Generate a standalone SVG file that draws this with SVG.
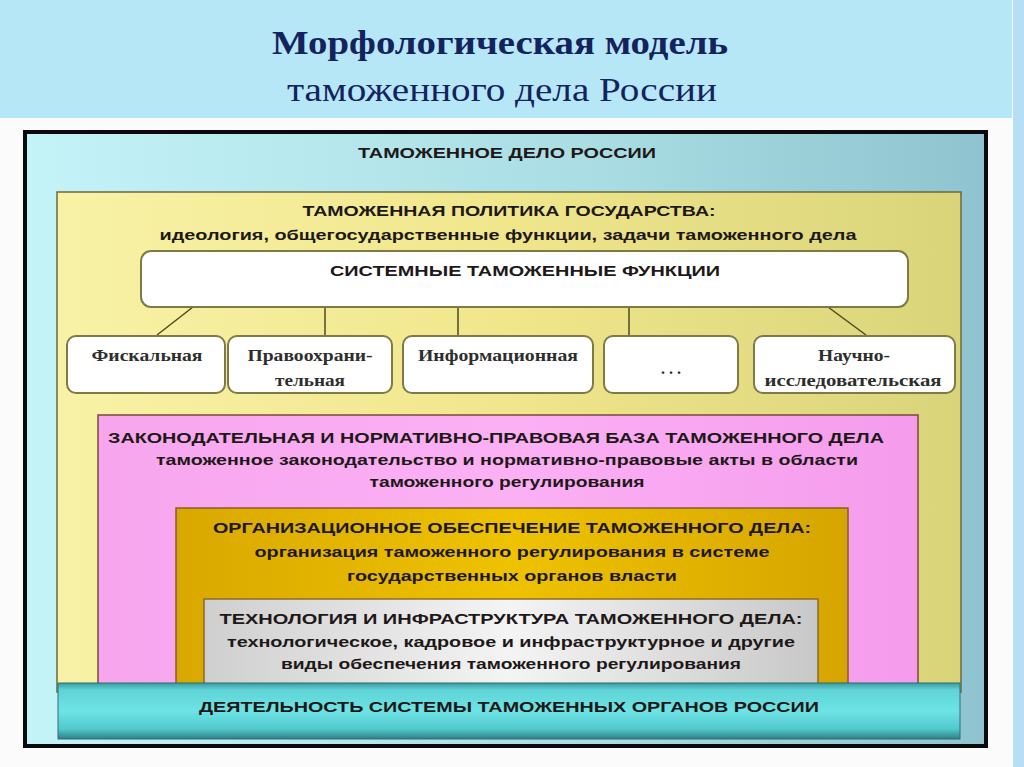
<svg xmlns="http://www.w3.org/2000/svg" width="1024" height="767" viewBox="0 0 1024 767">
  <defs>
    <linearGradient id="gOuter" x1="0" y1="0" x2="1" y2="0">
      <stop offset="0" stop-color="#c4f3f8"/>
      <stop offset="0.6" stop-color="#a9dde3"/>
      <stop offset="1" stop-color="#8fc3cf"/>
    </linearGradient>
    <linearGradient id="gYellow" x1="0" y1="0" x2="1" y2="0">
      <stop offset="0" stop-color="#f8f2a6"/>
      <stop offset="0.5" stop-color="#f0e68c"/>
      <stop offset="1" stop-color="#d9d47a"/>
    </linearGradient>
    <linearGradient id="gPink" x1="0" y1="0" x2="1" y2="0">
      <stop offset="0" stop-color="#f7a6ee"/>
      <stop offset="0.5" stop-color="#fbb0f4"/>
      <stop offset="1" stop-color="#f59cec"/>
    </linearGradient>
    <linearGradient id="gGold" x1="0" y1="0" x2="1" y2="0">
      <stop offset="0" stop-color="#d9a800"/>
      <stop offset="0.5" stop-color="#eec200"/>
      <stop offset="1" stop-color="#d6a500"/>
    </linearGradient>
    <linearGradient id="gGray" x1="0" y1="0" x2="1" y2="0">
      <stop offset="0" stop-color="#cfcfcf"/>
      <stop offset="0.5" stop-color="#f4f4f4"/>
      <stop offset="1" stop-color="#c8c8c8"/>
    </linearGradient>
    <linearGradient id="gBar" x1="0" y1="0" x2="0" y2="1">
      <stop offset="0" stop-color="#3c9a9f"/>
      <stop offset="0.12" stop-color="#5fd3d6"/>
      <stop offset="0.5" stop-color="#6ee4e6"/>
      <stop offset="0.82" stop-color="#52c9cc"/>
      <stop offset="1" stop-color="#2f7f86"/>
    </linearGradient>
    <style>
      .title { font-family: "Liberation Serif", "DejaVu Serif", serif; fill: #14225e; }
      .cap { font-family: "Liberation Sans", Arial, sans-serif; font-weight: bold; fill: #1e1818; text-anchor: middle; }
      .ser { font-family: "Liberation Serif", "DejaVu Serif", serif; font-weight: bold; fill: #2e2e2e; text-anchor: middle; font-size: 16px; }
      .fn { fill: #ffffff; stroke: #7d7a45; stroke-width: 2; }
      .conn { stroke: #4d4a22; stroke-width: 1.5; fill: none; }
    </style>
  </defs>

  <!-- background -->
  <rect x="0" y="0" width="1024" height="767" fill="#fbfbfb"/>
  <rect x="0" y="0" width="1012" height="118" fill="#b6e7f7"/>
  <rect x="1013" y="0" width="11" height="767" fill="#b6def5"/>

  <g id="title">
    <text class="title" x="500" y="54" font-size="34" font-weight="bold" text-anchor="middle" textLength="456" lengthAdjust="spacingAndGlyphs">Морфологическая модель</text>
    <text class="title" x="502" y="101" font-size="33" text-anchor="middle" textLength="430" lengthAdjust="spacingAndGlyphs">таможенного дела России</text>
  </g>

  <g id="outer">
    <rect x="25" y="132" width="961" height="614" fill="url(#gOuter)" stroke="#0a0a0a" stroke-width="4"/>
    <text class="cap" x="507" y="158" font-size="15" textLength="298" lengthAdjust="spacingAndGlyphs">ТАМОЖЕННОЕ ДЕЛО РОССИИ</text>
  </g>

  <g id="policy">
    <rect x="57" y="192" width="904" height="500" fill="url(#gYellow)" stroke="#6c6a3a" stroke-width="1.5"/>
    <text class="cap" x="509" y="216" font-size="15" textLength="413" lengthAdjust="spacingAndGlyphs">ТАМОЖЕННАЯ ПОЛИТИКА ГОСУДАРСТВА:</text>
    <text class="cap" x="508" y="240" font-size="15" textLength="697" lengthAdjust="spacingAndGlyphs">идеология, общегосударственные функции, задачи таможенного дела</text>
  </g>

  <g id="connectors">
    <line class="conn" x1="193" y1="307" x2="157" y2="335"/>
    <line class="conn" x1="325" y1="307" x2="325" y2="335"/>
    <line class="conn" x1="458" y1="307" x2="458" y2="335"/>
    <line class="conn" x1="629" y1="307" x2="629" y2="335"/>
    <line class="conn" x1="828" y1="307" x2="866" y2="335"/>
  </g>

  <g id="system-functions">
    <rect class="fn" x="141" y="251" width="767" height="56" rx="10"/>
    <text class="cap" x="525" y="276" font-size="15" textLength="390" lengthAdjust="spacingAndGlyphs">СИСТЕМНЫЕ ТАМОЖЕННЫЕ ФУНКЦИИ</text>
  </g>

  <g id="fiscal">
    <rect class="fn" x="67" y="336" width="158" height="57" rx="9"/>
    <text class="ser" x="147" y="361" textLength="111" lengthAdjust="spacingAndGlyphs">Фискальная</text>
  </g>
  <g id="law-enforcement">
    <rect class="fn" x="228" y="336" width="164" height="57" rx="9"/>
    <text class="ser" x="310" y="361" textLength="125" lengthAdjust="spacingAndGlyphs">Правоохрани-</text>
    <text class="ser" x="310" y="386" textLength="70" lengthAdjust="spacingAndGlyphs">тельная</text>
  </g>
  <g id="informational">
    <rect class="fn" x="403" y="336" width="190" height="57" rx="9"/>
    <text class="ser" x="498" y="361" textLength="160" lengthAdjust="spacingAndGlyphs">Информационная</text>
  </g>
  <g id="etc">
    <rect class="fn" x="604" y="336" width="134" height="57" rx="9"/>
    <text class="ser" x="671" y="374">. . .</text>
  </g>
  <g id="research">
    <rect class="fn" x="754" y="336" width="201" height="57" rx="9"/>
    <text class="ser" x="854" y="361" textLength="72" lengthAdjust="spacingAndGlyphs">Научно-</text>
    <text class="ser" x="853" y="386" textLength="177" lengthAdjust="spacingAndGlyphs">исследовательская</text>
  </g>

  <g id="legal-base">
    <rect x="98" y="415" width="820" height="277" fill="url(#gPink)" stroke="#7a4a3a" stroke-width="1.5"/>
    <text class="cap" x="496" y="443" font-size="15" textLength="776" lengthAdjust="spacingAndGlyphs">ЗАКОНОДАТЕЛЬНАЯ И НОРМАТИВНО-ПРАВОВАЯ БАЗА ТАМОЖЕННОГО ДЕЛА</text>
    <text class="cap" x="507" y="465" font-size="15" textLength="702" lengthAdjust="spacingAndGlyphs">таможенное законодательство и нормативно-правовые акты в области</text>
    <text class="cap" x="507" y="487" font-size="15" textLength="275" lengthAdjust="spacingAndGlyphs">таможенного регулирования</text>
  </g>

  <g id="organizational">
    <rect x="176" y="508" width="672" height="184" fill="url(#gGold)" stroke="#8a5a30" stroke-width="1.5"/>
    <text class="cap" x="512" y="533" font-size="15" textLength="598" lengthAdjust="spacingAndGlyphs">ОРГАНИЗАЦИОННОЕ ОБЕСПЕЧЕНИЕ ТАМОЖЕННОГО ДЕЛА:</text>
    <text class="cap" x="512" y="557" font-size="15" textLength="515" lengthAdjust="spacingAndGlyphs">организация таможенного регулирования в системе</text>
    <text class="cap" x="512" y="581" font-size="15" textLength="330" lengthAdjust="spacingAndGlyphs">государственных органов власти</text>
  </g>

  <g id="technology">
    <rect x="204" y="599" width="614" height="90" fill="url(#gGray)" stroke="#8a6a30" stroke-width="1.5"/>
    <text class="cap" x="511" y="624" font-size="15" textLength="583" lengthAdjust="spacingAndGlyphs">ТЕХНОЛОГИЯ И ИНФРАСТРУКТУРА ТАМОЖЕННОГО ДЕЛА:</text>
    <text class="cap" x="511" y="647" font-size="15" textLength="568" lengthAdjust="spacingAndGlyphs">технологическое, кадровое и инфраструктурное и другие</text>
    <text class="cap" x="511" y="669" font-size="15" textLength="460" lengthAdjust="spacingAndGlyphs">виды обеспечения таможенного регулирования</text>
  </g>

  <g id="activity">
    <rect x="58" y="683" width="902" height="56" fill="url(#gBar)" stroke="#2d6f75" stroke-width="1"/>
    <text class="cap" x="509" y="712" font-size="15" textLength="620" lengthAdjust="spacingAndGlyphs">ДЕЯТЕЛЬНОСТЬ СИСТЕМЫ ТАМОЖЕННЫХ ОРГАНОВ РОССИИ</text>
  </g>
</svg>
